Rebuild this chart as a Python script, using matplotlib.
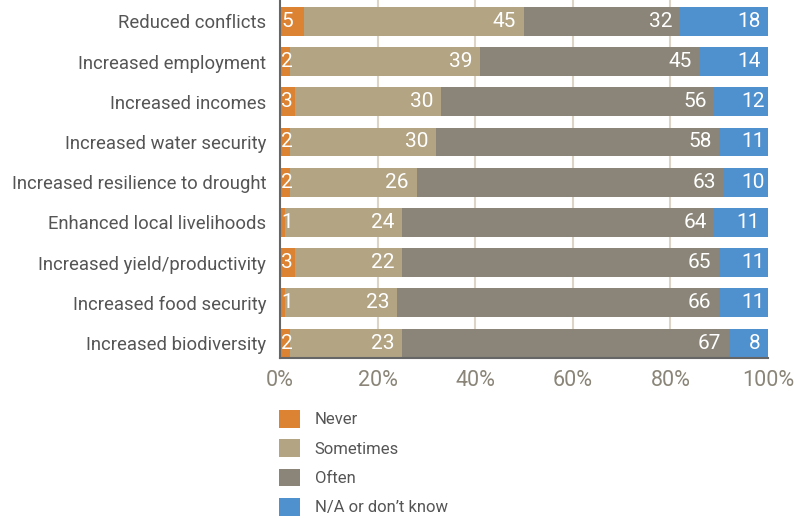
import matplotlib.pyplot as plt
from matplotlib.patches import Patch

plt.rcParams['font.family'] = ['Roboto', 'DejaVu Sans']

categories = [
    "Reduced conflicts",
    "Increased employment",
    "Increased incomes",
    "Increased water security",
    "Increased resilience to drought",
    "Enhanced local livelihoods",
    "Increased yield/productivity",
    "Increased food security",
    "Increased biodiversity",
]
never = [5, 2, 3, 2, 2, 1, 3, 1, 2]
sometimes = [45, 39, 30, 30, 26, 24, 22, 23, 23]
often = [32, 45, 56, 58, 63, 64, 65, 66, 67]
na = [18, 14, 12, 11, 10, 11, 11, 11, 8]

series_names = ["Never", "Sometimes", "Often", "N/A or don\u2019t know"]
colors = ["#DC8233", "#B3A584", "#8A8578", "#4F90CF"]
ticks = [0, 20, 40, 60, 80, 100]
tick_labels = ["0%", "20%", "40%", "60%", "80%", "100%"]

fig = plt.figure(figsize=(7.94, 5.18), dpi=100)
ax = fig.add_axes([280 / 794, 1 - 358 / 518, 488 / 794, 358 / 518])

y = list(range(len(categories)))
left = [0] * len(categories)
all_series = [never, sometimes, often, na]
for i, (vals, col) in enumerate(zip(all_series, colors)):
    ax.barh(y, vals, left=left, height=0.72, color=col, zorder=2)
    for j, v in enumerate(vals):
        if i == 0:
            ax.text(left[j] + 0.2, j, str(v), ha="left", va="center",
                    color="white", fontsize=15, zorder=3)
        else:
            ax.text(left[j] + v - 1.6, j, str(v), ha="right", va="center",
                    color="white", fontsize=15, zorder=3)
    left = [a + b for a, b in zip(left, vals)]

ax.set_xlim(0, 100)
ax.set_ylim(8.37, -0.53)
ax.set_yticks(y)
ax.set_yticklabels(categories, fontsize=13.3, color="#555555")
ax.set_xticks(ticks)
ax.set_xticklabels(tick_labels, fontsize=15.5, color="#8A8578")
ax.tick_params(length=0)
ax.tick_params(axis="x", pad=9)
ax.tick_params(axis="y", pad=10)

for x in ticks[1:-1]:
    ax.axvline(x, color="#DCD4C6", lw=1.5, zorder=1)

for s in ["top", "right"]:
    ax.spines[s].set_visible(False)
for s in ["left", "bottom"]:
    ax.spines[s].set_color("#666666")
    ax.spines[s].set_linewidth(1.5)
    ax.spines[s].set_zorder(4)

handles = [Patch(facecolor=c, edgecolor="none") for c in colors]
leg = fig.legend(handles, series_names, loc="upper left",
                 bbox_to_anchor=(264 / 794, 1 - 395 / 518),
                 frameon=False, fontsize=12, handlelength=1.25, handleheight=1.25,
                 labelspacing=0.7, handletextpad=0.9)
for t in leg.get_texts():
    t.set_color("#555555")

fig.savefig("out.png", dpi=100)
